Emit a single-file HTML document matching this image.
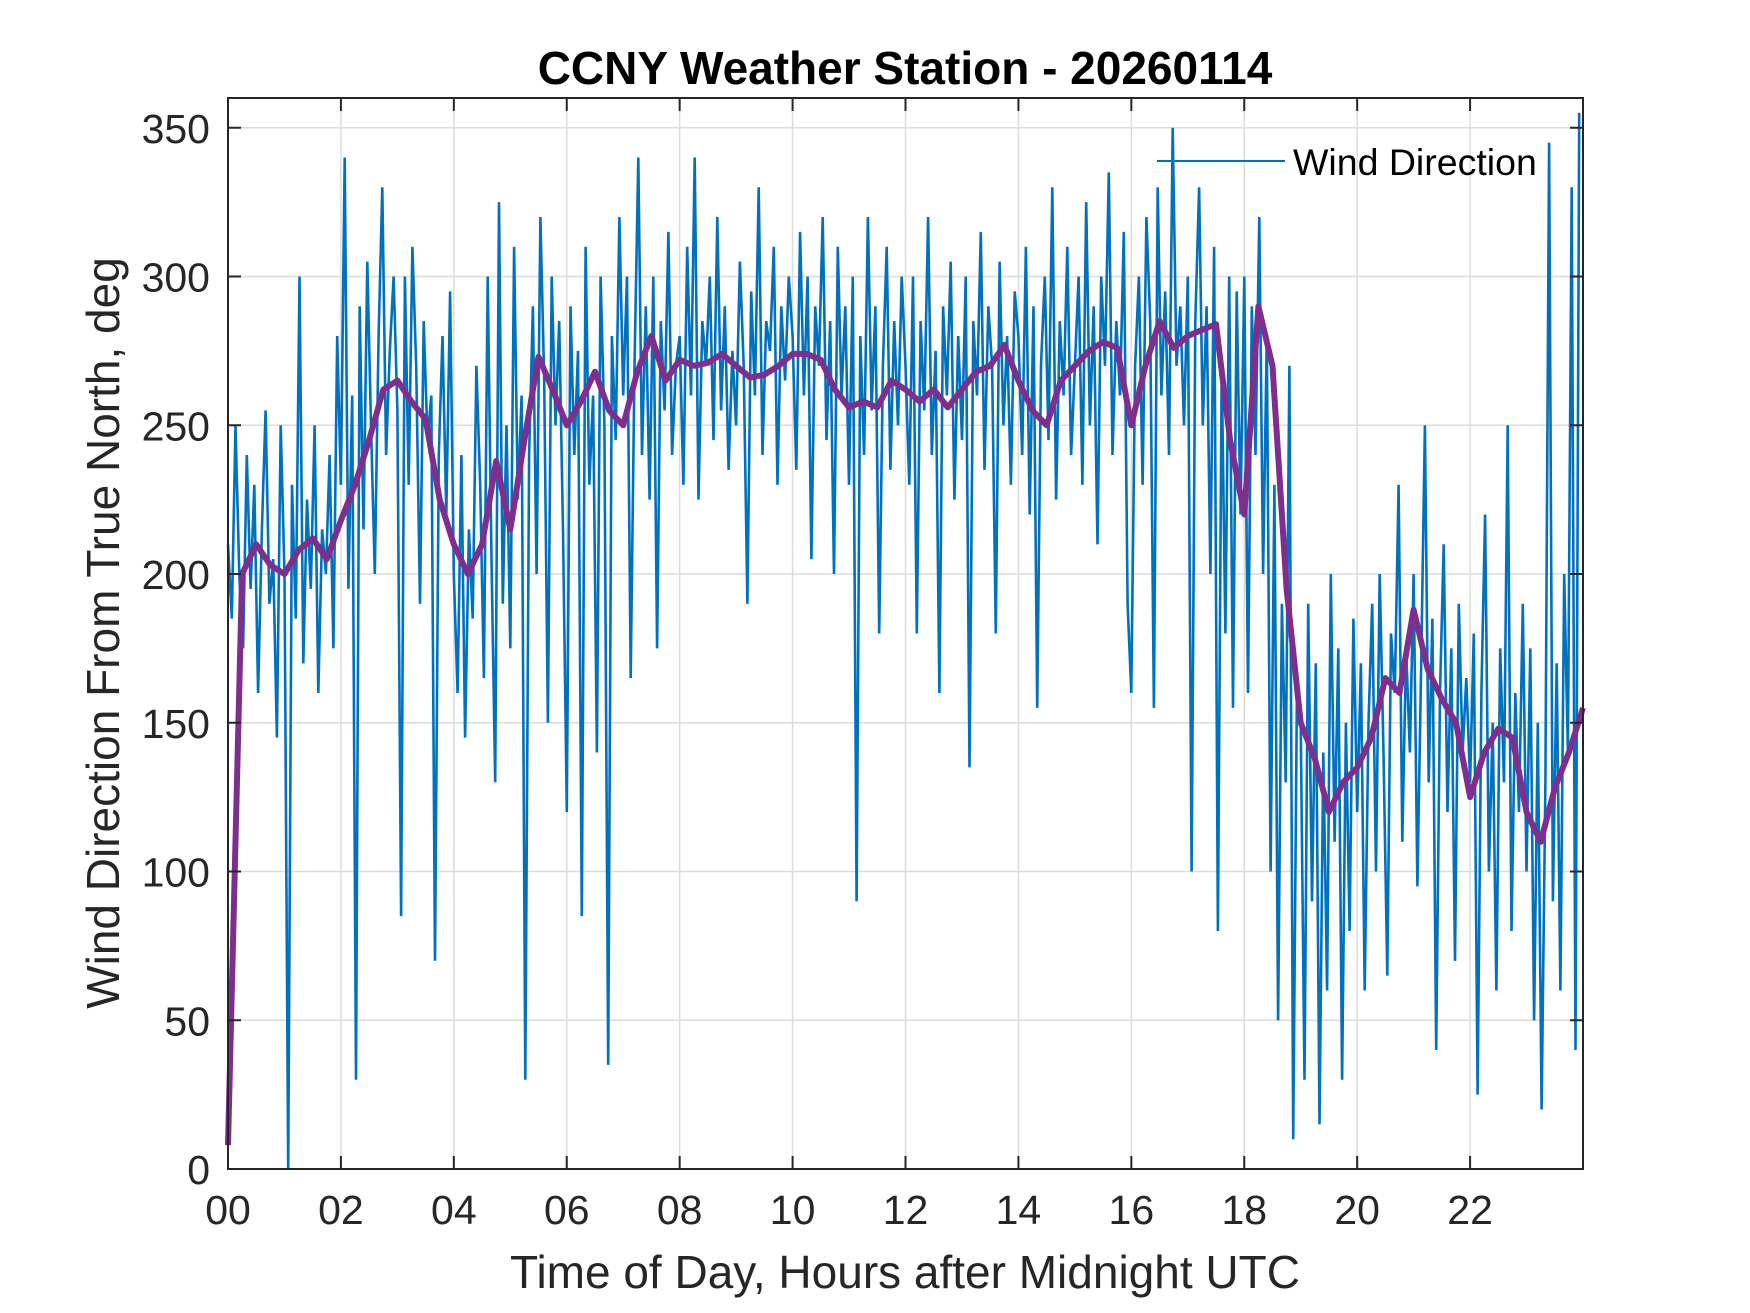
<!DOCTYPE html>
<html><head><meta charset="utf-8"><style>
html,body{margin:0;padding:0;background:#fff;}
svg{display:block;font-family:"Liberation Sans",Arial,sans-serif;}
</style></head><body>
<svg id="chart" width="1750" height="1313" viewBox="0 0 1750 1313">
<rect x="0" y="0" width="1750" height="1313" fill="#fff"/>
<g id="grid"></g>
<g id="series"></g>
<g id="axes"></g>
<text x="905" y="84" text-anchor="middle" font-size="46" font-weight="bold" fill="#000">CCNY Weather Station - 20260114</text>
<text x="905" y="1288" text-anchor="middle" font-size="46" fill="#262626">Time of Day, Hours after Midnight UTC</text>
<text transform="translate(119,633) rotate(-90)" text-anchor="middle" font-size="46" fill="#262626">Wind Direction From True North, deg</text>
<g>
<line x1="1157" y1="161" x2="1285" y2="161" stroke="#0072BD" stroke-width="2"/>
<text x="1293" y="175" font-size="37.5" fill="#000">Wind Direction</text>
</g>
</svg>
<script>
const xTicks = [0,2,4,6,8,10,12,14,16,18,20,22];
const xTickLabels = ["00","02","04","06","08","10","12","14","16","18","20","22"];
const yTicks = [0,50,100,150,200,250,300,350];
const windRaw = [
210,185,250,200,175,240,195,230,160,215,255,190,205,145,250,
200,0,230,185,300,170,225,195,250,160,215,200,240,175,280,
230,340,195,260,30,290,215,305,250,200,280,330,240,275,300,
255,85,300,230,310,270,190,285,245,260,70,240,280,220,295,
200,160,240,145,215,185,270,230,165,300,205,130,325,190,250,
175,310,225,260,30,240,290,200,320,265,150,300,250,285,215,
120,290,240,275,85,310,230,260,140,300,250,35,280,245,320,
260,300,165,270,340,240,290,225,300,175,285,255,315,240,270,
280,230,310,260,340,225,285,270,300,245,320,255,290,235,275,
250,305,270,190,295,260,330,240,285,275,310,230,290,265,300,
280,235,315,260,300,205,290,270,320,245,285,200,310,260,290,
230,300,90,280,240,320,255,290,180,270,310,235,285,250,300,
270,230,300,180,285,255,320,240,275,160,290,260,305,225,280,
245,300,135,285,260,315,235,290,270,180,305,250,280,230,295,
280,240,310,220,290,155,270,300,245,330,225,285,260,310,240,
270,300,230,325,250,290,210,300,270,335,240,285,260,315,190,
160,270,300,230,320,285,155,330,260,295,240,350,270,290,250,
300,100,285,330,250,290,200,310,80,270,180,300,155,295,220,
300,160,290,240,320,200,280,100,230,50,190,130,270,10,160,
150,30,190,90,170,15,140,60,200,110,175,30,150,80,185,
120,170,60,150,190,100,200,140,65,180,160,230,110,175,140,
200,95,170,250,130,185,40,160,210,120,175,70,190,140,165,
130,180,25,160,220,100,150,60,175,130,250,80,160,120,190,
100,175,50,150,20,130,345,90,170,60,200,140,330,40,355];
const windAvg = [8,200,210,203,200,208,212,205,218,230,245,262,265,258,252,225,210,200,210,238,215,245,273,262,250,258,268,255,250,268,280,265,272,270,271,274,270,266,267,270,274,274,272,262,256,258,256,265,262,258,262,256,262,268,270,277,265,255,250,265,270,275,278,276,250,270,285,276,280,282,284,245,220,290,270,195,150,138,120,130,135,145,165,160,188,168,158,150,125,140,148,145,120,110,128,140,155];

const L=228,R=1583,T=98,B=1169;
const xs=h=>L+(R-L)*h/24;
const ys=v=>B-(B-T)*v/360;
const NS="http://www.w3.org/2000/svg";
const grid=document.getElementById('grid'),axes=document.getElementById('axes'),series=document.getElementById('series');
function mk(tag,attrs,parent){const e=document.createElementNS(NS,tag);for(const k in attrs)e.setAttribute(k,attrs[k]);parent.appendChild(e);return e;}
xTicks.forEach((t,i)=>{
  const x=xs(t);
  const g=mk('line',{x1:x,y1:T,x2:x,y2:B,stroke:'#dcdcdc','stroke-width':1.5},grid);
  
  
  mk('line',{x1:x,y1:B,x2:x,y2:B-13,stroke:'#262626','stroke-width':2},axes);
  mk('line',{x1:x,y1:T,x2:x,y2:T+13,stroke:'#262626','stroke-width':2},axes);
  const tx=mk('text',{x:x,y:B+55,'text-anchor':'middle','font-size':41,fill:'#262626'},axes);
  tx.textContent=xTickLabels[i];
  
  
});
yTicks.forEach(t=>{
  const y=ys(t);
  const g=mk('line',{x1:L,y1:y,x2:R,y2:y,stroke:'#dcdcdc','stroke-width':1.5},grid);
  
  
  mk('line',{x1:L,y1:y,x2:L+13,y2:y,stroke:'#262626','stroke-width':2},axes);
  mk('line',{x1:R,y1:y,x2:R-13,y2:y,stroke:'#262626','stroke-width':2},axes);
  const tx=mk('text',{x:L-18,y:y+15,'text-anchor':'end','font-size':41,fill:'#262626'},axes);
  tx.textContent=String(t);
  
  
});
const frame=mk('rect',{x:L,y:T,width:R-L,height:B-T,fill:'none',stroke:'#262626','stroke-width':2},axes);


let d='';
windRaw.forEach((v,i)=>{d+=(i?'L':'M')+xs(i*24/windRaw.length).toFixed(1)+' '+ys(v).toFixed(1);});
const raw=mk('path',{d:d,fill:'none',stroke:'#0072BD','stroke-width':2.6},series);


let d2='';
windAvg.forEach((v,i)=>{d2+=(i?'L':'M')+xs(i*24/(windAvg.length-1)).toFixed(1)+' '+ys(v).toFixed(1);});
const avg=mk('path',{d:d2,fill:'none',stroke:'#7E2F8E','stroke-width':6,'stroke-linejoin':'round'},series);


</script>
</body></html>
